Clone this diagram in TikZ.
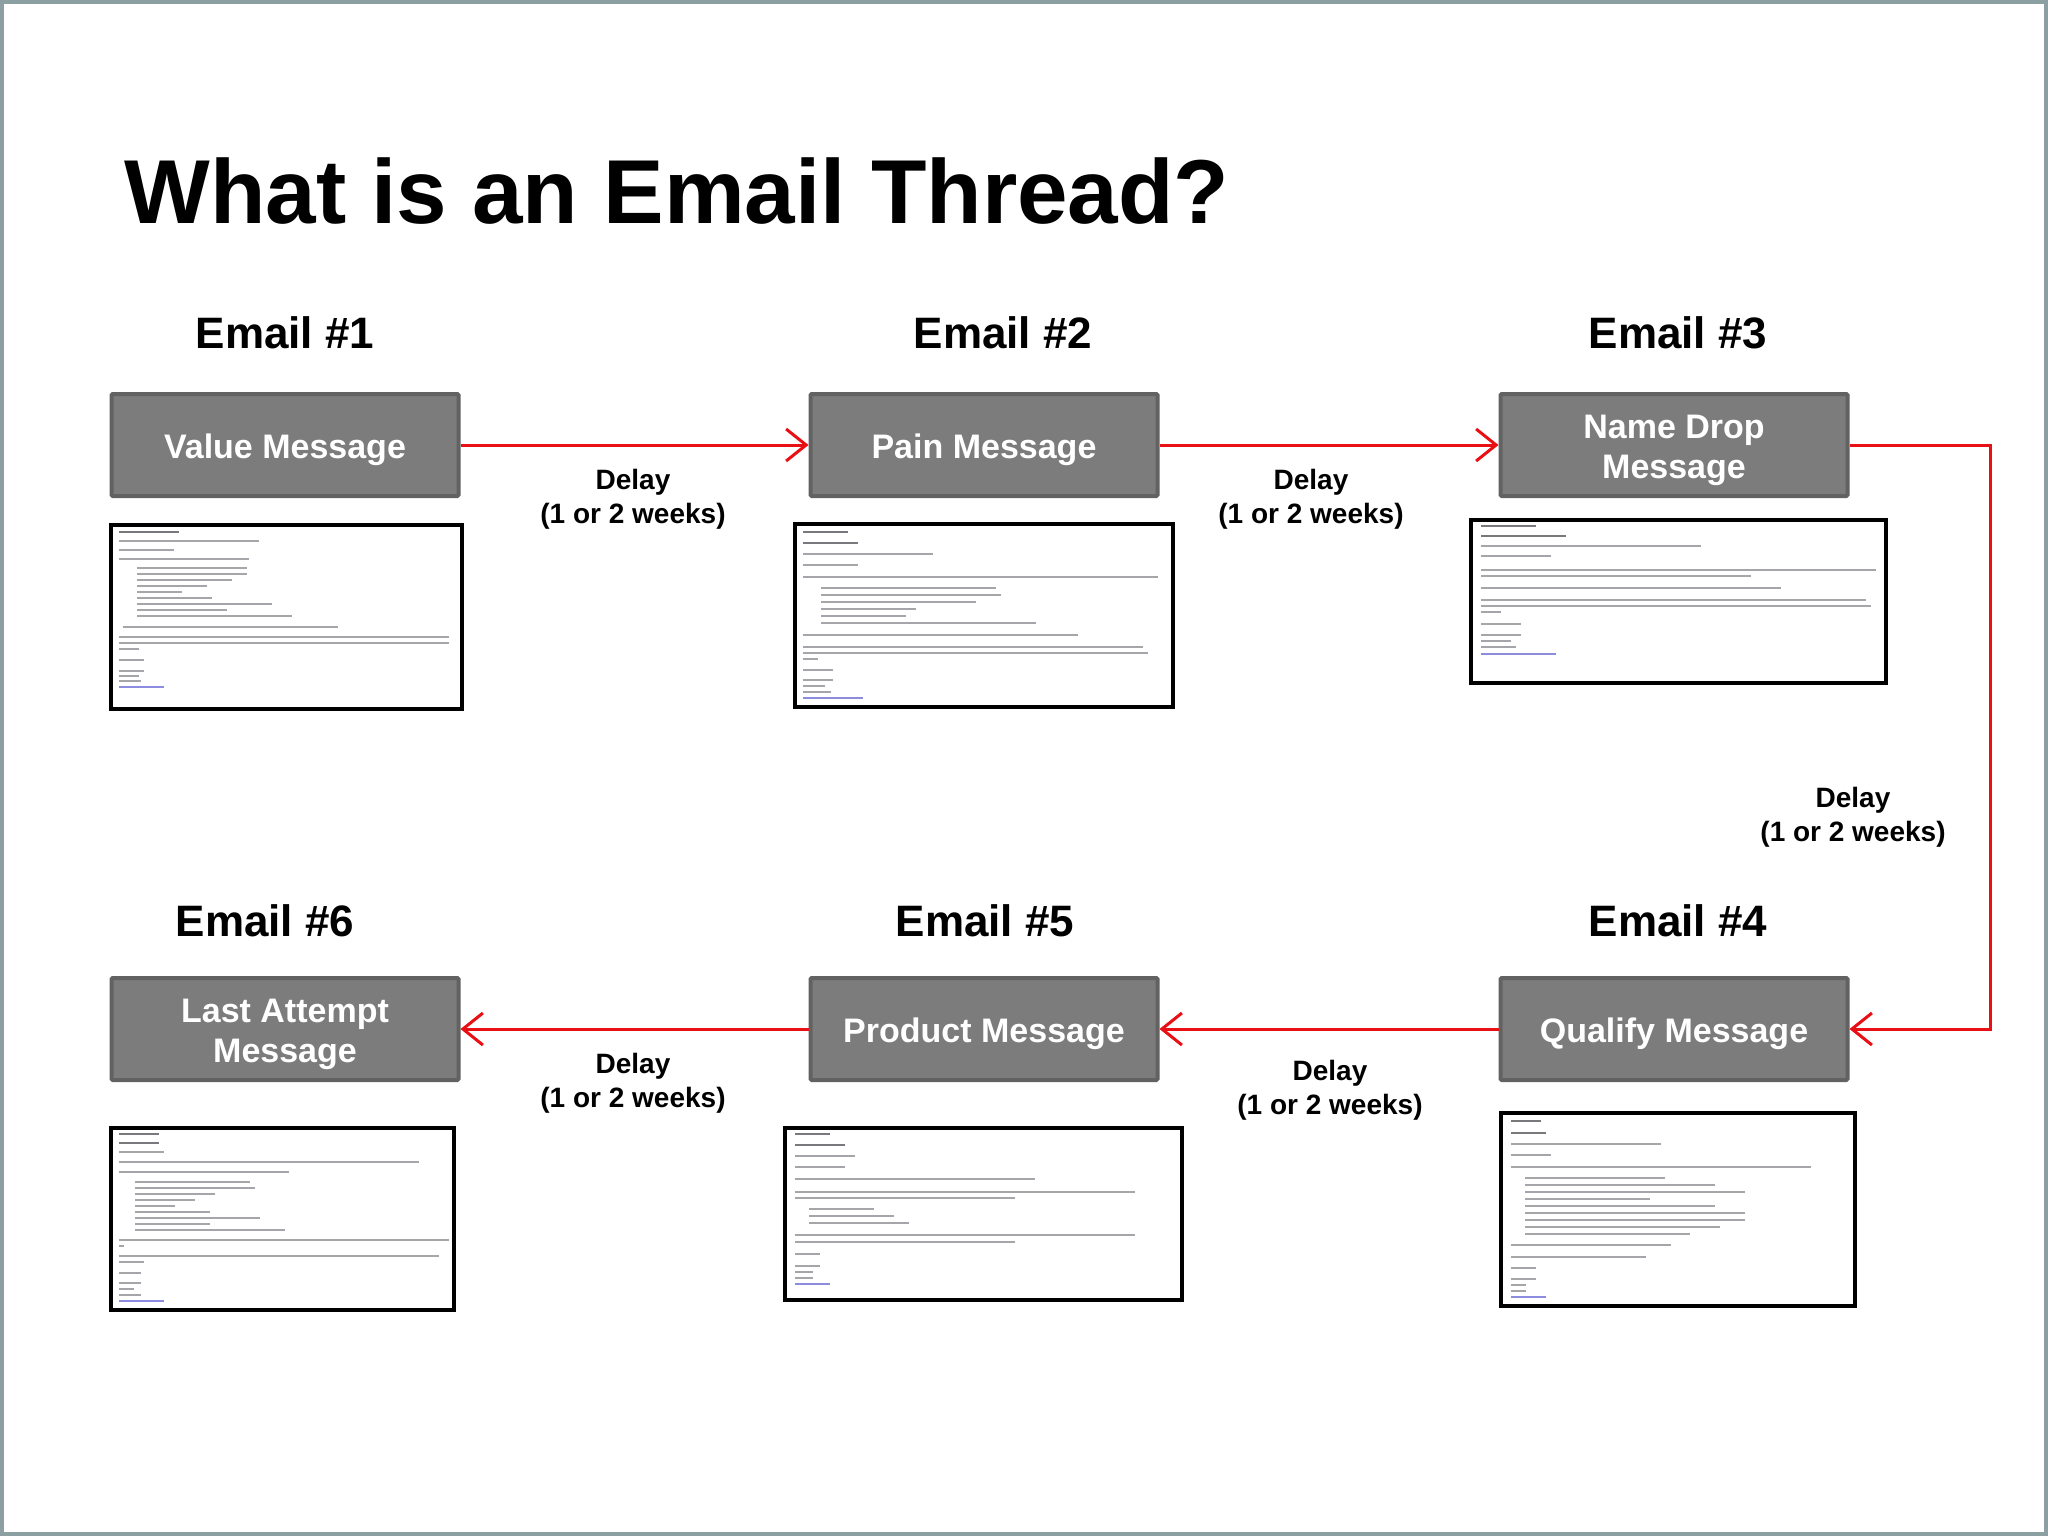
\documentclass[tikz,border=0pt]{standalone}
\usepackage{fontspec}
\setmainfont{Liberation Sans}
\usetikzlibrary{arrows.meta}
\definecolor{framecol}{RGB}{140,160,164}
\definecolor{boxfill}{RGB}{124,124,124}
\definecolor{boxedge}{RGB}{98,98,98}
\definecolor{arrred}{RGB}{232,16,20}
\definecolor{txtgray}{RGB}{165,165,170}
\definecolor{txtdark}{RGB}{120,120,125}
\definecolor{txtblue}{RGB}{140,140,225}
\newcommand{\boxlbl}[1]{\raisebox{-2.5pt}[\height][\depth]{\begin{tabular}{@{}c@{}}#1\end{tabular}}}
\tikzset{
  msgbox/.style={draw=boxedge, fill=boxfill, line width=2pt, rounded corners=0.6pt,
    minimum width=173.5pt, minimum height=51pt, inner sep=0pt, text=white, align=center,
    font=\fontsize{17pt}{20pt}\selectfont\bfseries},
  heading/.style={anchor=base, inner sep=0pt, font=\fontsize{22pt}{26pt}\selectfont\bfseries},
  delay/.style={align=center, inner sep=0pt, font=\fontsize{14pt}{17pt}\selectfont\bfseries},
  flow/.style={draw=arrred, line width=1.5pt, -{Straight Barb[length=10pt,width=16pt,line width=1.5pt]}},
  thumb/.style={draw=black, fill=white, line width=2pt, inner sep=0pt},
  tl/.style={draw=txtgray, line width=1.3pt},
  tld/.style={draw=txtdark, line width=1.4pt},
  tlb/.style={draw=txtblue, line width=1.3pt},
}
\begin{document}
\begin{tikzpicture}[x=0.5pt, y=-0.5pt]
\useasboundingbox (0,0) rectangle (2048,1536);
\fill[white] (0,0) rectangle (2048,1536);
\draw[framecol, line width=2pt] (2,2) rectangle (2046,1534);

% title
\node[anchor=base west, inner sep=0pt, font=\fontsize{45.4pt}{54pt}\selectfont\bfseries] (title) at (124,223) {What is an Email Thread?};

% headings
\node[heading] (h1) at (285,348) {Email \#1};
\node[heading] (h2) at (1003,348) {Email \#2};
\node[heading] (h3) at (1678,348) {Email \#3};
\node[heading] (h6) at (265,936) {Email \#6};
\node[heading] (h5) at (985,936) {Email \#5};
\node[heading] (h4) at (1678,936) {Email \#4};

% message boxes
\node[msgbox] (b1) at (285,445) {\boxlbl{Value Message}};
\node[msgbox] (b2) at (984,445) {\boxlbl{Pain Message}};
\node[msgbox] (b3) at (1674,445) {\boxlbl{Name Drop\\Message}};
\node[msgbox] (b4) at (1674,1029) {\boxlbl{Qualify Message}};
\node[msgbox] (b5) at (984,1029) {\boxlbl{Product Message}};
\node[msgbox] (b6) at (285,1029) {\boxlbl{Last Attempt\\Message}};

% connectors
\coordinate (c3) at (1990,445);
\draw[flow] (b1.east) -- (b2.west);
\draw[flow] (b2.east) -- (b3.west);
\draw[flow] (b3.east) -- (c3) |- (b4.east);
\draw[flow] (b4.west) -- (b5.east);
\draw[flow] (b5.west) -- (b6.east);

% delay labels
\node[delay] (d1) at (633,499) {Delay\\(1 or 2 weeks)};
\node[delay] (d2) at (1311,499) {Delay\\(1 or 2 weeks)};
\node[delay] (d3) at (1853,817) {Delay\\(1 or 2 weeks)};
\node[delay] (d5) at (633,1083) {Delay\\(1 or 2 weeks)};
\node[delay] (d4) at (1330,1090) {Delay\\(1 or 2 weeks)};

% email thumbnails
\node[thumb, minimum width=175.5pt, minimum height=92pt] (t1) at (286.5,617) {};
\node[thumb, minimum width=189pt, minimum height=91.5pt] (t2) at (984,615.5) {};
\node[thumb, minimum width=207.5pt, minimum height=81.5pt] (t3) at (1678.5,601.5) {};
\node[thumb, minimum width=171.5pt, minimum height=91pt] (t6) at (282.5,1219) {};
\node[thumb, minimum width=198.5pt, minimum height=86pt] (t5) at (983.5,1214) {};
\node[thumb, minimum width=177pt, minimum height=96.5pt] (t4) at (1678,1209.5) {};

% blurred text of thumbnail 1
\begin{scope}[shift={(t1.north west)}]
\draw[tld] (10,9) -- ++(60,0);
\foreach \a/\b/\c in {10/18/140,10/27/55,10/36/130,28/45/110,28/51/110,28/57/95,28/63/70,28/69/45,28/75/75,28/81/135,28/87/90,28/93/155,14/104/215,10/114/330,10/120/330,10/126/20,10/137/25,10/148/25,10/153/20,10/158/22}
  \draw[tl] (\a,\b) -- ++(\c,0);
\draw[tlb] (10,164) -- ++(45,0);
\end{scope}

% thumbnail 2
\begin{scope}[shift={(t2.north west)}]
\draw[tld] (10,10) -- ++(45,0);
\draw[tld] (10,21) -- ++(55,0);
\foreach \a/\b/\c in {10/32/130,10/43/55,10/55/355,28/66/175,28/73/180,28/80/155,28/87/95,28/94/85,28/101/215,10/113/275,10/125/340,10/131/345,10/137/15,10/148/30,10/158/30,10/164/22,10/170/28}
  \draw[tl] (\a,\b) -- ++(\c,0);
\draw[tlb] (10,176) -- ++(60,0);
\end{scope}

% thumbnail 3
\begin{scope}[shift={(t3.north west)}]
\draw[tld] (12,8) -- ++(55,0);
\draw[tld] (12,18) -- ++(85,0);
\foreach \a/\b/\c in {12/28/220,12/38/70,12/52/395,12/58/270,12/70/300,12/82/385,12/88/390,12/94/20,12/106/40,12/117/40,12/123/30,12/129/35}
  \draw[tl] (\a,\b) -- ++(\c,0);
\draw[tlb] (12,136) -- ++(75,0);
\end{scope}

% thumbnail 6
\begin{scope}[shift={(t6.north west)}]
\draw[tld] (10,8) -- ++(40,0);
\draw[tld] (10,17) -- ++(40,0);
\foreach \a/\b/\c in {10/26/45,10/36/300,10/46/170,26/56/115,26/62/120,26/68/80,26/74/60,26/80/40,26/86/75,26/92/125,26/98/75,26/104/150,10/114/330,10/120/5,10/130/320,10/136/25,10/147/22,10/157/22,10/163/15,10/169/22}
  \draw[tl] (\a,\b) -- ++(\c,0);
\draw[tlb] (10,175) -- ++(45,0);
\end{scope}

% thumbnail 5
\begin{scope}[shift={(t5.north west)}]
\draw[tld] (12,8) -- ++(35,0);
\draw[tld] (12,19) -- ++(50,0);
\foreach \a/\b/\c in {12/30/60,12/41/50,12/53/240,12/66/340,12/72/220,26/83/65,26/90/85,26/97/100,12/109/340,12/116/220,12/128/25,12/140/25,12/146/18,12/152/18}
  \draw[tl] (\a,\b) -- ++(\c,0);
\draw[tlb] (12,158) -- ++(35,0);
\end{scope}

% thumbnail 4
\begin{scope}[shift={(t4.north west)}]
\draw[tld] (12,10) -- ++(30,0);
\draw[tld] (12,22) -- ++(35,0);
\foreach \a/\b/\c in {12/33/150,12/44/40,12/56/300,26/67/140,26/74/190,26/81/220,26/88/125,26/95/190,26/102/220,26/109/220,26/116/195,26/123/165,12/134/160,12/146/135,12/157/25,12/168/25,12/174/15,12/180/15}
  \draw[tl] (\a,\b) -- ++(\c,0);
\draw[tlb] (12,186) -- ++(35,0);
\end{scope}
\end{tikzpicture}
\end{document}
